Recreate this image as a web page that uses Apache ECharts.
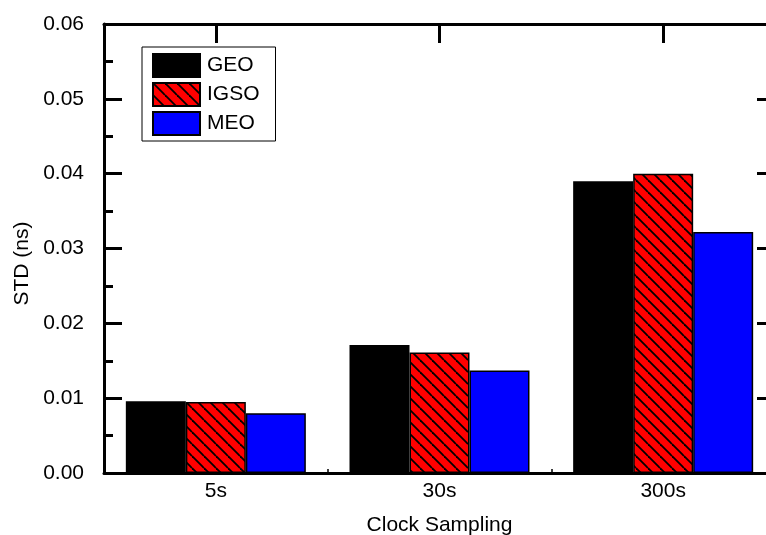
<!DOCTYPE html>
<html>
<head>
<meta charset="utf-8">
<script src="https://cdn.jsdelivr.net/npm/echarts@6/dist/echarts.min.js"></script>
<style>
  html, body { margin: 0; padding: 0; background: #fff; overflow: hidden; }
  /* 图比窗口略宽：原图右边框被裁掉 */
  #chart { width: 776px; height: 535px; }
</style>
</head>
<body>
<div id="chart"></div>
<script>
// 数据
var categories = ['5s', '30s', '300s'];
var geoData = [0.0096, 0.0171, 0.0390];
var igsoData = [0.0095, 0.0161, 0.0400];
var meoData = [0.0080, 0.0137, 0.0322];
var yTickLabels = ['0.00', '0.01', '0.02', '0.03', '0.04', '0.05', '0.06'];

var font = "'Liberation Sans', Arial, sans-serif";

// 红底黑斜线的填充图案
function makeHatch () {
  var s = 12;
  var c = document.createElement('canvas');
  c.width = s;
  c.height = s;
  var ctx = c.getContext('2d');
  ctx.fillStyle = '#ff0000';
  ctx.fillRect(0, 0, s, s);
  ctx.strokeStyle = '#000';
  ctx.lineWidth = 1.8;
  for (var k = -1; k <= 1; k++) {
    ctx.beginPath();
    ctx.moveTo(0, k * s);
    ctx.lineTo(s, s + k * s);
    ctx.stroke();
  }
  return c;
}
var hatch = { image: makeHatch(), repeat: 'repeat' };

var axisLine = { show: true, onZero: false, lineStyle: { color: '#000', width: 3 } };

var chart = echarts.init(document.getElementById('chart'));
chart.setOption({
  animation: false,
  textStyle: { fontFamily: font, color: '#000' },
  grid: { left: 104, top: 24, right: 1, bottom: 62, containLabel: false, outerBoundsMode: 'none' },
  legend: {
    left: 142,
    top: 47,
    orient: 'vertical',
    icon: 'rect',
    itemWidth: 47,
    itemHeight: 23,
    itemGap: 4,
    padding: [6, 16, 5, 10],
    borderColor: '#000',
    borderWidth: 1,
    borderRadius: 0,
    itemStyle: { borderColor: '#000', borderWidth: 2 },
    textStyle: { fontFamily: font, fontSize: 21, color: '#000', padding: [0, 0, 0, 2] },
    data: ['GEO', 'IGSO', 'MEO']
  },
  xAxis: [
    {
      type: 'category',
      data: categories,
      position: 'bottom',
      axisLine: axisLine,
      axisTick: { show: true, inside: true, length: 4, alignWithLabel: false, lineStyle: { color: '#000', width: 1.5 } },
      axisLabel: { show: true, fontFamily: font, fontSize: 21, color: '#000', margin: 8 },
      name: 'Clock Sampling',
      nameLocation: 'middle',
      nameGap: 42,
      nameTextStyle: { fontFamily: font, fontSize: 21, color: '#000' }
    },
    {
      type: 'category',
      data: categories,
      position: 'top',
      axisLine: axisLine,
      axisTick: { show: true, inside: true, length: 19, alignWithLabel: true, lineStyle: { color: '#000', width: 3 } },
      axisLabel: { show: false }
    }
  ],
  yAxis: [
    {
      type: 'value',
      min: 0,
      max: 0.06,
      interval: 0.01,
      axisLine: axisLine,
      axisTick: { show: true, inside: true, length: 18, lineStyle: { color: '#000', width: 3 } },
      minorTick: { show: true, splitNumber: 2, length: 9, lineStyle: { color: '#000', width: 3 } },
      splitLine: { show: false },
      axisLabel: {
        show: true,
        fontFamily: font,
        fontSize: 21,
        color: '#000',
        margin: 20,
        formatter: function (v, i) { return yTickLabels[i]; }
      },
      name: 'STD (ns)',
      nameLocation: 'middle',
      nameGap: 70,
      nameRotate: 90,
      nameTextStyle: { fontFamily: font, fontSize: 21, color: '#000', padding: [0, 30, 0, 0] }
    },
    {
      type: 'value',
      min: 0,
      max: 0.06,
      interval: 0.01,
      position: 'right',
      axisLine: axisLine,
      axisTick: { show: true, inside: true, length: 18, lineStyle: { color: '#000', width: 3 } },
      minorTick: { show: true, splitNumber: 2, length: 9, lineStyle: { color: '#000', width: 3 } },
      splitLine: { show: false },
      axisLabel: { show: false }
    }
  ],
  series: [
    {
      name: 'GEO',
      type: 'bar',
      data: geoData,
      barWidth: 60,
      barGap: '0%',
      itemStyle: { color: '#000', borderColor: '#000', borderWidth: 1.5 }
    },
    {
      name: 'IGSO',
      type: 'bar',
      data: igsoData,
      barWidth: 60,
      barGap: '0%',
      itemStyle: { color: hatch, borderColor: '#000', borderWidth: 1.5 }
    },
    {
      name: 'MEO',
      type: 'bar',
      data: meoData,
      barWidth: 60,
      barGap: '0%',
      itemStyle: { color: '#0000ff', borderColor: '#000', borderWidth: 1.5 }
    }
  ]
});
</script>
</body>
</html>
